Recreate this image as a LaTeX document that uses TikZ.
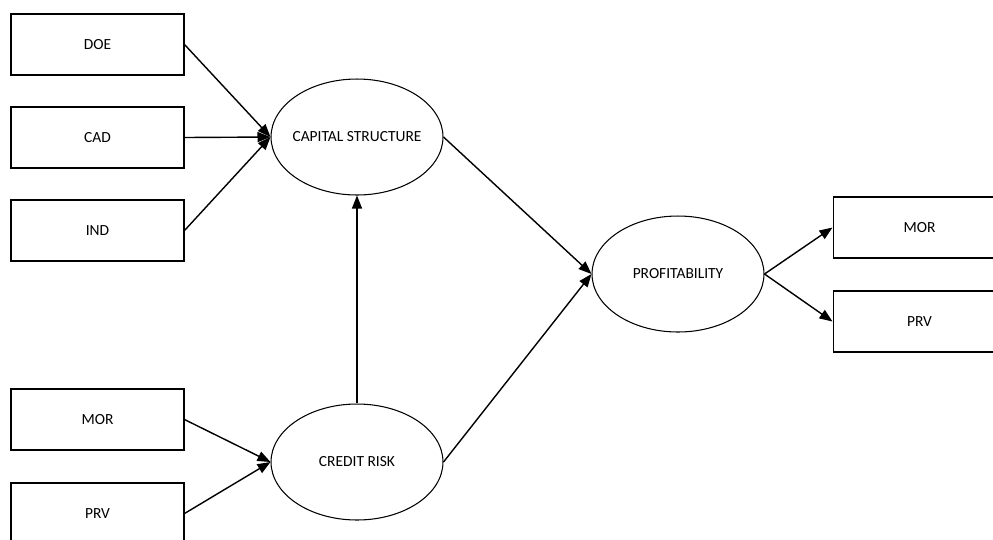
\documentclass[tikz,border=0pt]{standalone}
\usepackage{fontspec}
\setmainfont{Carlito}
\usetikzlibrary{
    arrows.meta,
    shapes,
    positioning
}

\tikzset{
    indicator/.style={draw, line width=0.6pt, minimum width=3.46cm, minimum height=1.22cm, inner sep=0pt, font=\fontsize{8.8}{10}\selectfont},
    construct/.style={draw, ellipse, line width=0.6pt, minimum width=3.44cm, minimum height=2.32cm, inner xsep=-0.5cm, inner ysep=0pt, font=\fontsize{8.8}{10}\selectfont},
    path/.style={->, line width=0.8pt, >={Triangle[length=0.26cm, width=0.2cm]}}
}

\begin{document}
\begin{tikzpicture}[x=0.02cm, y=-0.02cm]
                        \useasboundingbox (0, 0) rectangle (993, 539);

                        \node[indicator] (doe) at (97.5, 44.5) {DOE};
                        \node[indicator] (cad) at (97.5, 137.5) {CAD};
                        \node[indicator] (ind) at (97.5, 230.5) {IND};
                        \node[indicator] (morl) at (97.5, 419.5) {MOR};
                        \node[indicator] (prvl) at (97.5, 513.5) {PRV};

                        \node[construct] (cs) at (357, 137) {CAPITAL STRUCTURE};
                        \node[construct] (cr) at (357, 462) {CREDIT RISK};
                        \node[construct] (pf) at (678, 274) {PROFITABILITY};

                        \node[indicator] (morr) at (919.5, 227.5) {MOR};
                        \node[indicator] (prvr) at (919.5, 321.5) {PRV};

                        \draw
                        (doe.east) edge [path] (cs.west)
                        (cad.east) edge [path] (cs.west)
                        (ind.east) edge [path] (cs.west)
                        (morl.east) edge [path] (cr.west)
                        (prvl.east) edge [path] (cr.west)
                        (cr.north) edge [path] (cs.south)
                        (cs.east) edge [path] (pf.west)
                        (cr.east) edge [path] (pf.west)
                        (pf.east) edge [path] (morr.west)
                        (pf.east) edge [path] (prvr.west);
                    \end{tikzpicture}
\end{document}
